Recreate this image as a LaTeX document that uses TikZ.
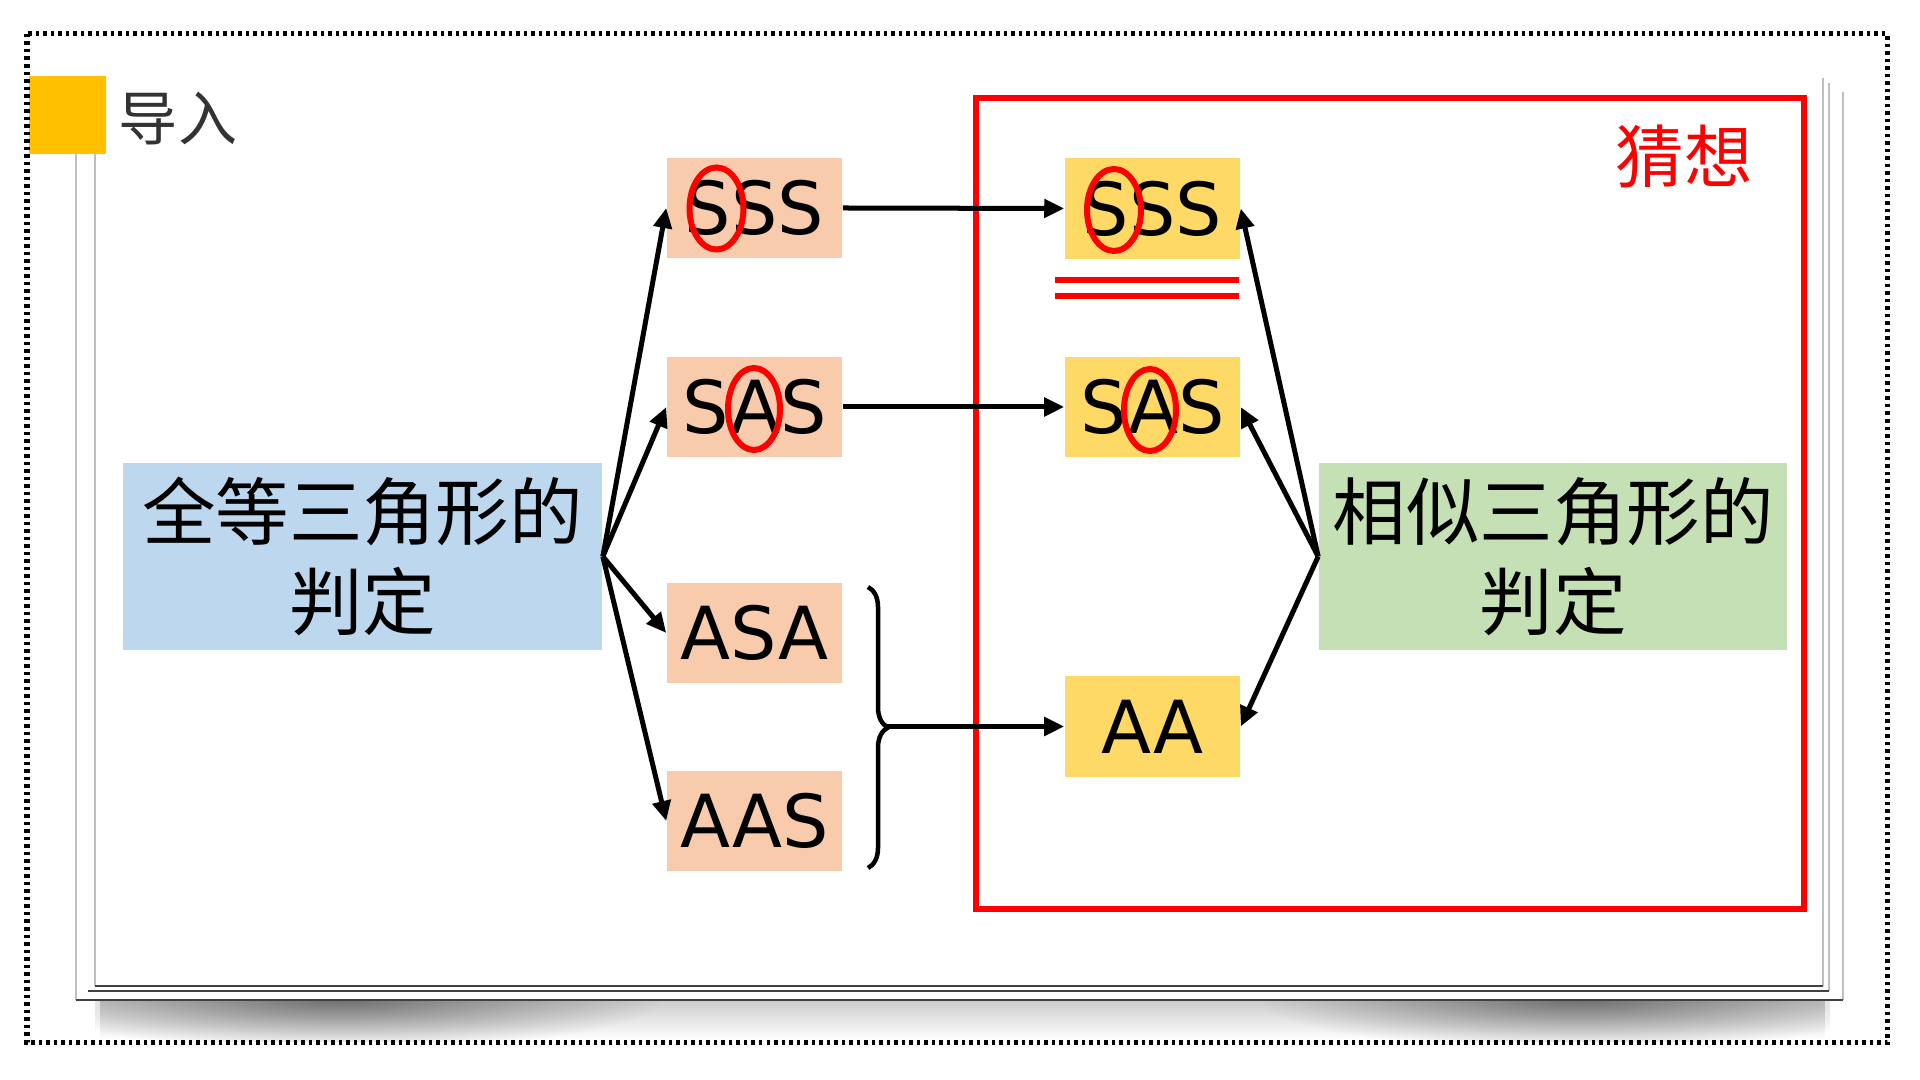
\documentclass[tikz,border=0pt]{standalone}
\usepackage{fontspec}
\setmainfont{DejaVu Sans}
\newfontfamily\cjk{Noto Sans CJK SC}
\usetikzlibrary{arrows.meta,decorations.pathreplacing,fadings}
\definecolor{salmon}{HTML}{F8CBAD}
\definecolor{gold}{HTML}{FFD966}
\definecolor{lblue}{HTML}{BDD7EE}
\definecolor{lgreen}{HTML}{C5E0B4}
\definecolor{tagyellow}{HTML}{FFC000}
\definecolor{redline}{HTML}{FF0000}
\tikzfading[name=softblob, inner color=transparent!0, outer color=transparent!100]
\begin{document}
\begin{tikzpicture}[x=0.01cm,y=-0.01cm,
  box/.style={inner sep=0pt, minimum width=17.5mm, minimum height=10mm,
    font=\fontsize{20.8pt}{25pt}\selectfont},
  lbox/.style={box, fill=salmon},
  rbox/.style={box, fill=gold},
  bigbox/.style={inner sep=0pt, minimum height=18.7mm, align=center,
    font=\cjk\fontsize{20.9pt}{25.6pt}\selectfont},
  arr/.style={line width=0.5mm, -{Triangle[length=2mm,width=1.8mm]}},
  ring/.style={draw=redline, line width=0.6mm},
  pageside/.style={black!25, line width=0.12mm},
  pagebottom/.style={black!75, line width=0.22mm}]
\useasboundingbox (0,0) rectangle (1920,1080);
\fill[white] (0,0) rectangle (1920,1080);
% shadow below the page stack
\begin{scope}
\clip (95,1000) rectangle (1830,1042);
\fill[black, opacity=0.2, path fading=south] (100,1000) rectangle (1825,1040);
\fill[black, opacity=0.45, path fading=softblob] (20,950) rectangle (660,1050);
\fill[black, opacity=0.45, path fading=softblob] (1260,950) rectangle (1900,1050);
\end{scope}
% page stack
\fill[white] (76,92) rectangle (1843,1000);
\draw[pageside] (76,92) -- (76,1000) (1843,92) -- (1843,1000);
\draw[pagebottom] (76,1000) -- (1843,1000);
\fill[white] (88,83) rectangle (1829,991);
\draw[pageside] (1829,83) -- (1829,991);
\draw[pagebottom] (88,991) -- (1829,991);
\fill[white] (95,78) rectangle (1823,986);
\draw[pageside] (95,78) -- (95,986) (1823,78) -- (1823,986);
\draw[pagebottom] (95,986) -- (1823,986);
% title
\node[fill=tagyellow, inner sep=0pt, minimum width=7.7mm, minimum height=7.8mm] (tag) at (67.5,115) {};
\node[text=black!80, font=\cjk\fontsize{16.8pt}{18pt}\selectfont] (title) at (178,119) {导入};
% red frame
\node[draw=redline, line width=0.6mm, inner sep=0pt, minimum width=82.8mm, minimum height=81.1mm] (guess) at (1390,503.5) {};
\node[text=redline, font=\cjk\fontsize{19.5pt}{20pt}\selectfont] (guesslabel) at (1684,156) {猜想};
% main nodes
\node[bigbox, fill=lblue, minimum width=47.9mm] (qd) at (362.5,556.5) {全等三角形的\\判定};
\node[bigbox, fill=lgreen, minimum width=46.8mm] (xs) at (1553,556.5) {相似三角形的\\判定};
\node[lbox] (sss1) at (754.5,208) {SSS};
\node[lbox] (sas1) at (754.5,407) {SAS};
\node[lbox] (asa) at (754.5,633) {ASA};
\node[lbox] (aas) at (754.5,821) {AAS};
\node[rbox] (sss2) at (1152.5,208.5) {SSS};
\node[rbox] (sas2) at (1152.5,407) {SAS};
\node[rbox] (aa) at (1152.5,726.5) {AA};
% red rings
\draw[ring] (716.5,208.5) ellipse [x radius=27, y radius=41];
\draw[ring] (754,409) ellipse [x radius=26, y radius=41];
\draw[ring] (1114,210) ellipse [x radius=27, y radius=41];
\draw[ring] (1150,410) ellipse [x radius=26, y radius=41];
% equals sign under SSS
\draw[redline, line width=0.55mm] (1055,280) -- (1239,280) (1055,296) -- (1239,296);
% arrows
\draw[arr] (qd.east) -- (sss1.west);
\draw[arr] (qd.east) -- (sas1.west);
\draw[arr] (qd.east) -- (asa.west);
\draw[arr] (qd.east) -- (aas.west);
\draw[arr] (sss1.east) -- (sss2.west);
\draw[arr] (sas1.east) -- (sas2.west);
\draw[arr] (xs.west) -- (sss2.east);
\draw[arr] (xs.west) -- (sas2.east);
\draw[arr] (xs.west) -- (aa.east);
% brace
\draw[line width=0.45mm, decorate, decoration={brace, amplitude=2mm}] (868,587) -- (868,868);
\coordinate (bt) at (886,726.5);
\draw[arr] (bt) -- (aa.west);
% dotted border
\draw[line width=0.5mm, dash pattern=on 0.35mm off 0.4mm] (27,34) rectangle (1887,1043);
\end{tikzpicture}
\end{document}
